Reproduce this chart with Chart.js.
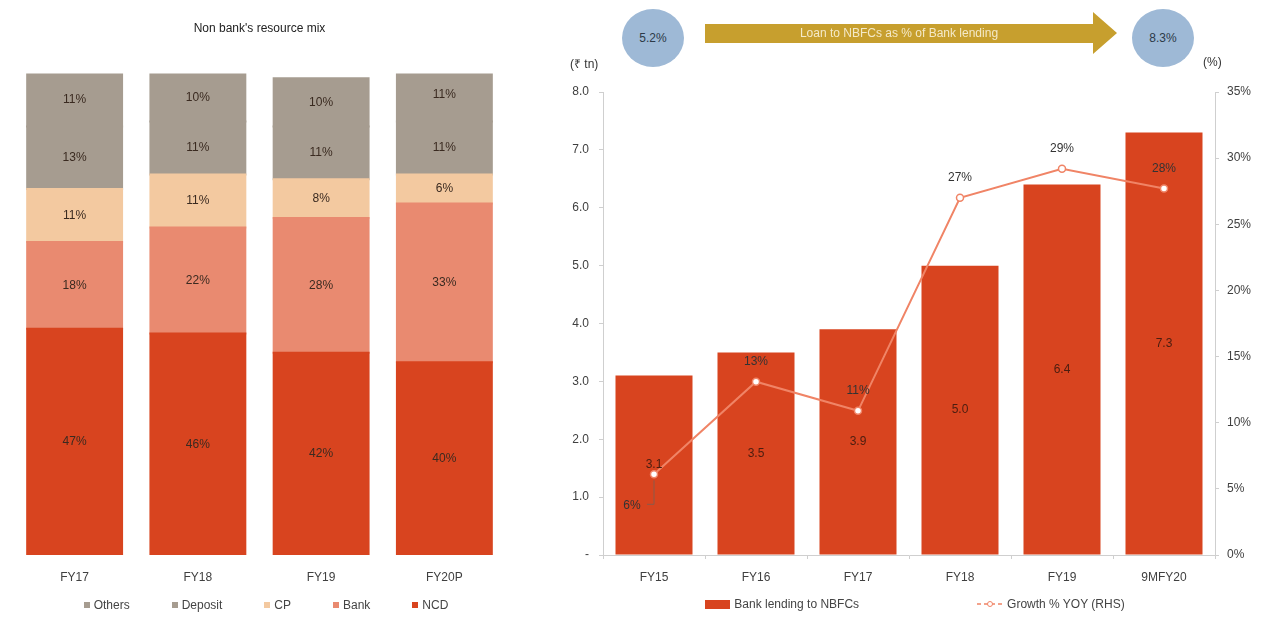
<!DOCTYPE html>
<html>
<head>
<meta charset="utf-8">
<script src="https://cdn.jsdelivr.net/npm/chart.js@4.4.1/dist/chart.umd.min.js"></script>
<style>
    body { margin: 0; background: #fff; width: 1265px; height: 617px; overflow: hidden; position: relative; font-family: "Liberation Sans", Arial, sans-serif; }
    .box { position: absolute; top: 0; height: 617px; }
    #left-box { left: 0; width: 520px; }
    #right-box { left: 540px; width: 725px; }
    .bubble { position: absolute; top: 9px; width: 62px; height: 58px; border-radius: 50%; background: #9eb9d6; color: #2d3a48; font-size: 12px; display: flex; align-items: center; justify-content: center; }
    .arrow { position: absolute; left: 705px; top: 12px; width: 412px; height: 42px; background: #c79f2e;
        clip-path: polygon(0 12px, 388px 12px, 388px 0, 412px 21px, 388px 42px, 388px 31px, 0 31px); }
    .arrow-text { position: absolute; left: 705px; top: 24px; width: 388px; text-align: center; font-size: 12px; line-height: 19px; color: #f4e9c8; }
    .axis-title { position: absolute; top: 55px; font-size: 12px; color: #333; }
    .legend { position: absolute; display: flex; justify-content: center; align-items: center; font-size: 12px; color: #444; }
    .legend .item { display: flex; align-items: center; }
    .legend .sw { display: inline-block; margin-right: 4px; }
</style>
</head>
<body>
<div id="left-box" class="box"><canvas id="mix-chart"></canvas></div>
<div id="right-box" class="box"><canvas id="lending-chart"></canvas></div>

<div class="bubble" id="share-start" style="left:622px;"></div>
<div class="arrow"></div>
<div class="arrow-text" id="arrow-text"></div>
<div class="bubble" id="share-end" style="left:1132px;"></div>
<div class="axis-title" style="left:570px;">(₹ tn)</div>
<div class="axis-title" style="left:1203px;">(%)</div>

<div class="legend" id="mix-legend" style="left:0; width:532px; top:598px; gap:42px;"></div>
<div class="legend" id="lending-legend" style="left:540px; width:750px; top:597px; gap:118px;"></div>

<script>
// 좌측: 자금조달 구성 (%)
const mixCategories = ['FY17', 'FY18', 'FY19', 'FY20P'];
const ncdShare = [47, 46, 42, 40];
const bankShare = [18, 22, 28, 33];
const cpShare = [11, 11, 8, 6];
const depositShare = [13, 11, 11, 11];
const othersShare = [11, 10, 10, 11];

// 우측: 은행의 NBFC 대출 (₹ tn) 및 성장률 (%)
const lendingCategories = ['FY15', 'FY16', 'FY17', 'FY18', 'FY19', '9MFY20'];
const bankLending = [3.1, 3.5, 3.9, 5.0, 6.4, 7.3];
const growthYoY = [6.1, 13.1, 10.9, 27.0, 29.2, 27.7];

const loanShareStart = '5.2%';
const loanShareEnd = '8.3%';
const arrowLabel = 'Loan to NBFCs as % of Bank lending';

const colors = {
    ncd: '#d8441f',
    bank: '#e98a70',
    cp: '#f3c9a0',
    grey: '#a69c90',
    line: '#f08466',
    text: '#404040',
    label: '#3a2a20',
    axis: '#cfcfcf'
};
const FONT = '"Liberation Sans", Arial, sans-serif';

document.getElementById('share-start').textContent = loanShareStart;
document.getElementById('share-end').textContent = loanShareEnd;
document.getElementById('arrow-text').textContent = arrowLabel;

/**
 * 막대 중앙에 값 표시
 */
const mixLabels = {
    id: 'mixLabels',
    afterDatasetsDraw(chart) {
        const ctx = chart.ctx;
        ctx.save();
        ctx.font = '12px ' + FONT;
        ctx.fillStyle = colors.label;
        ctx.textAlign = 'center';
        ctx.textBaseline = 'middle';
        chart.data.datasets.forEach((ds, i) => {
            chart.getDatasetMeta(i).data.forEach((el, j) => {
                const p = el.getProps(['x', 'y', 'base'], true);
                ctx.fillText(ds.data[j] + '%', p.x, (p.y + p.base) / 2);
            });
        });
        ctx.restore();
    }
};

const lendingLabels = {
    id: 'lendingLabels',
    afterDatasetsDraw(chart) {
        const ctx = chart.ctx;
        ctx.save();
        ctx.font = '12px ' + FONT;
        ctx.textAlign = 'center';
        ctx.textBaseline = 'middle';

        // 막대 값
        const barMeta = chart.getDatasetMeta(0);
        ctx.fillStyle = '#4a1d10';
        barMeta.data.forEach((el, j) => {
            const p = el.getProps(['x', 'y', 'base'], true);
            ctx.fillText(bankLending[j].toFixed(1), p.x, (p.y + p.base) / 2);
        });

        // 성장률 값
        const lineMeta = chart.getDatasetMeta(1);
        ctx.fillStyle = '#333';
        lineMeta.data.forEach((el, j) => {
            const p = el.getProps(['x', 'y'], true);
            const text = Math.round(growthYoY[j]) + '%';
            if (j === 0) {
                ctx.strokeStyle = '#8a5a4a';
                ctx.lineWidth = 1;
                ctx.beginPath();
                ctx.moveTo(p.x, p.y + 6);
                ctx.lineTo(p.x, p.y + 30);
                ctx.lineTo(p.x - 7, p.y + 30);
                ctx.stroke();
                ctx.fillText(text, p.x - 22, p.y + 31);
            } else {
                ctx.fillText(text, p.x, p.y - 20);
            }
        });
        ctx.restore();
    }
};

function initMixChart() {
    const ctx = document.getElementById('mix-chart').getContext('2d');
    const stack = [
        { label: 'NCD', data: ncdShare, color: colors.ncd },
        { label: 'Bank', data: bankShare, color: colors.bank },
        { label: 'CP', data: cpShare, color: colors.cp },
        { label: 'Deposit', data: depositShare, color: colors.grey },
        { label: 'Others', data: othersShare, color: colors.grey }
    ];

    new Chart(ctx, {
        type: 'bar',
        data: {
            labels: mixCategories,
            datasets: stack.map(s => ({
                label: s.label,
                data: s.data,
                backgroundColor: s.color,
                borderWidth: 0,
                inflateAmount: 1,
                barPercentage: 0.77,
                categoryPercentage: 1
            }))
        },
        options: {
            responsive: true,
            maintainAspectRatio: false,
            animation: false,
            layout: { padding: { left: 13, right: 14, top: 0, bottom: 22 } },
            plugins: {
                legend: { display: false },
                tooltip: { enabled: false },
                title: {
                    display: true,
                    text: "Non bank's resource mix",
                    color: '#222',
                    font: { family: FONT, size: 12, weight: 'normal' },
                    padding: { top: 21, bottom: 38 }
                }
            },
            scales: {
                x: {
                    stacked: true,
                    grid: { display: false },
                    border: { display: false },
                    afterFit(scale) { scale.height = 40; },
                    ticks: { color: colors.text, font: { family: FONT, size: 12 }, padding: 7 }
                },
                y: {
                    stacked: true,
                    display: false,
                    min: 0,
                    max: 100
                }
            }
        },
        plugins: [mixLabels]
    });

    // 범례 (Others, Deposit, CP, Bank, NCD 순)
    const legendEl = document.getElementById('mix-legend');
    stack.slice().reverse().forEach(s => {
        const item = document.createElement('span');
        item.className = 'item';
        item.innerHTML = `<span class="sw" style="width:6px;height:6px;background:${s.color}"></span>${s.label}`;
        legendEl.appendChild(item);
    });
}

function initLendingChart() {
    const ctx = document.getElementById('lending-chart').getContext('2d');
    const tickFont = { family: FONT, size: 12 };

    new Chart(ctx, {
        data: {
            labels: lendingCategories,
            datasets: [{
                type: 'bar',
                label: 'Bank lending to NBFCs',
                data: bankLending,
                backgroundColor: colors.ncd,
                borderWidth: 0,
                barPercentage: 0.755,
                categoryPercentage: 1,
                yAxisID: 'y',
                order: 1
            }, {
                type: 'line',
                label: 'Growth % YOY (RHS)',
                data: growthYoY,
                borderColor: colors.line,
                borderWidth: 2,
                pointRadius: 3.5,
                pointBackgroundColor: '#fff',
                pointBorderColor: colors.line,
                pointBorderWidth: 1.5,
                tension: 0,
                yAxisID: 'y1',
                order: 0
            }]
        },
        options: {
            responsive: true,
            maintainAspectRatio: false,
            animation: false,
            layout: { padding: { left: 0, right: 0, top: 92, bottom: 22 } },
            plugins: {
                legend: { display: false },
                tooltip: { enabled: false }
            },
            scales: {
                x: {
                    grid: { drawOnChartArea: false, tickLength: 4, color: colors.axis },
                    border: { color: colors.axis },
                    afterFit(scale) { scale.height = 40; },
                    ticks: { color: colors.text, font: tickFont, padding: 11 }
                },
                y: {
                    position: 'left',
                    min: 0,
                    max: 8,
                    grid: { drawOnChartArea: false, tickLength: 4, color: colors.axis },
                    border: { color: colors.axis },
                    afterFit(scale) { scale.width = 63; },
                    ticks: {
                        stepSize: 1,
                        color: colors.text,
                        font: tickFont,
                        padding: 10,
                        callback: v => v === 0 ? '-' : v.toFixed(1)
                    }
                },
                y1: {
                    position: 'right',
                    min: 0,
                    max: 35,
                    grid: { drawOnChartArea: false, tickLength: 4, color: colors.axis },
                    border: { color: colors.axis },
                    afterFit(scale) { scale.width = 50; },
                    ticks: {
                        stepSize: 5,
                        color: colors.text,
                        font: tickFont,
                        padding: 8,
                        callback: v => v + '%'
                    }
                }
            }
        },
        plugins: [lendingLabels]
    });

    const legendEl = document.getElementById('lending-legend');
    legendEl.innerHTML =
        `<span class="item"><span class="sw" style="width:25px;height:9px;background:${colors.ncd}"></span>Bank lending to NBFCs</span>` +
        `<span class="item"><svg class="sw" width="26" height="10"><line x1="0" y1="5" x2="26" y2="5" stroke="${colors.line}" stroke-width="1.5" stroke-dasharray="4,3"/><circle cx="13" cy="5" r="2.5" fill="#fff" stroke="${colors.line}"/></svg>Growth % YOY (RHS)</span>`;
}

initMixChart();
initLendingChart();
</script>
</body>
</html>
